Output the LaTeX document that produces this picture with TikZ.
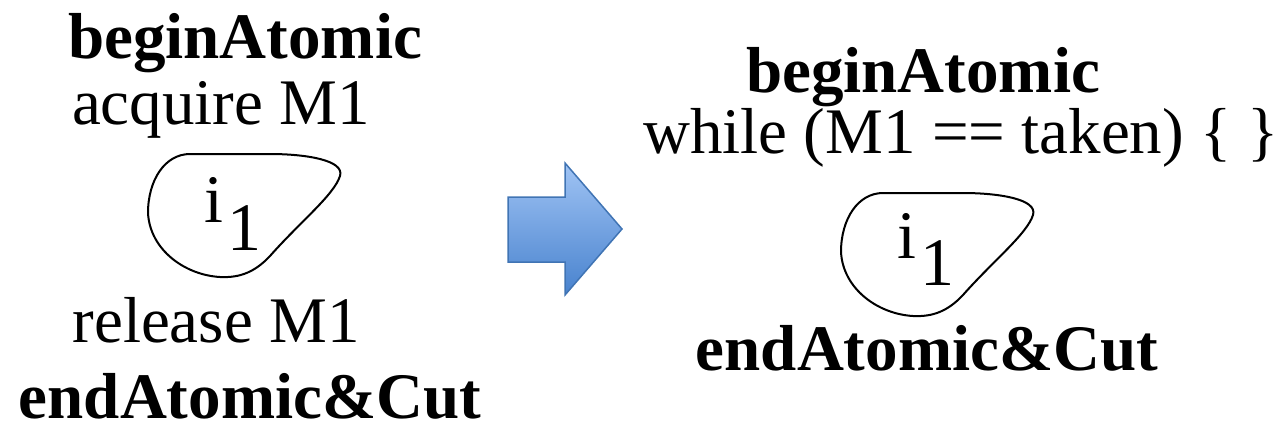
\documentclass[tikz,border=0pt]{standalone}
\usepackage{fontspec}
\setmainfont{Liberation Serif}
\newfontfamily\tms{Liberation Serif}
\definecolor{arrowtop}{RGB}{160,196,244}
\definecolor{arrowbot}{RGB}{72,130,206}
\definecolor{arrowline}{RGB}{64,116,180}
\begin{document}
\begin{tikzpicture}[x=1pt,y=-1pt,
  txt/.style={inner sep=0pt, anchor=base, font=\tms\fontsize{65}{70}\selectfont},
  btxt/.style={inner sep=0pt, anchor=base, font=\tms\fontsize{65}{70}\selectfont\bfseries},
  blob/.style={draw=black, line width=2pt, line join=round},
  idx/.style={inner sep=0pt, anchor=base west, font=\tms\fontsize{68}{70}\selectfont},
  bigarrow/.style={draw=arrowline, line width=1.5pt, line join=miter, top color=arrowtop, bottom color=arrowbot}]
\useasboundingbox (0,0) rectangle (1277,426);
% left column
\node[btxt] (lbegin) at (245,58) {beginAtomic};
\node[txt] (lacq) at (221,124) {acquire M1};
\draw[blob] (190,154) -- (270,154) .. controls (305,154) and (345,160) .. (340,176)
  .. controls (334,195) and (300,222) .. (270,256)
  .. controls (255,272) and (240,278) .. (220,277)
  .. controls (185,275) and (150,250) .. (148,213)
  .. controls (148,180) and (165,154) .. (190,154) -- cycle;
\node[idx] (li) at (204,222) {i\kern4.5pt\raisebox{-28pt}{1}};
\node[txt] (lrel) at (216,342) {release M1};
\node[btxt] (lend) at (250,418) {endAtomic\&Cut};
% arrow
\draw[bigarrow] (508,197) -- (565,197) -- (565,163) -- (622,229) -- (565,295) -- (565,262) -- (508,262) -- cycle;
% right column
\node[btxt] (rbegin) at (923,92) {beginAtomic};
\node[txt] (rwhile) at (961,153) {while (M1 == taken) \{ \}};
\begin{scope}[shift={(693,39)}]
\draw[blob] (190,154) -- (270,154) .. controls (305,154) and (345,160) .. (340,176)
  .. controls (334,195) and (300,222) .. (270,256)
  .. controls (255,272) and (240,278) .. (220,277)
  .. controls (185,275) and (150,250) .. (148,213)
  .. controls (148,180) and (165,154) .. (190,154) -- cycle;
\end{scope}
\node[idx] (ri) at (897,258) {i\kern4.5pt\raisebox{-27pt}{1}};
\node[btxt] (rend) at (927,370) {endAtomic\&Cut};
\end{tikzpicture}
\end{document}
